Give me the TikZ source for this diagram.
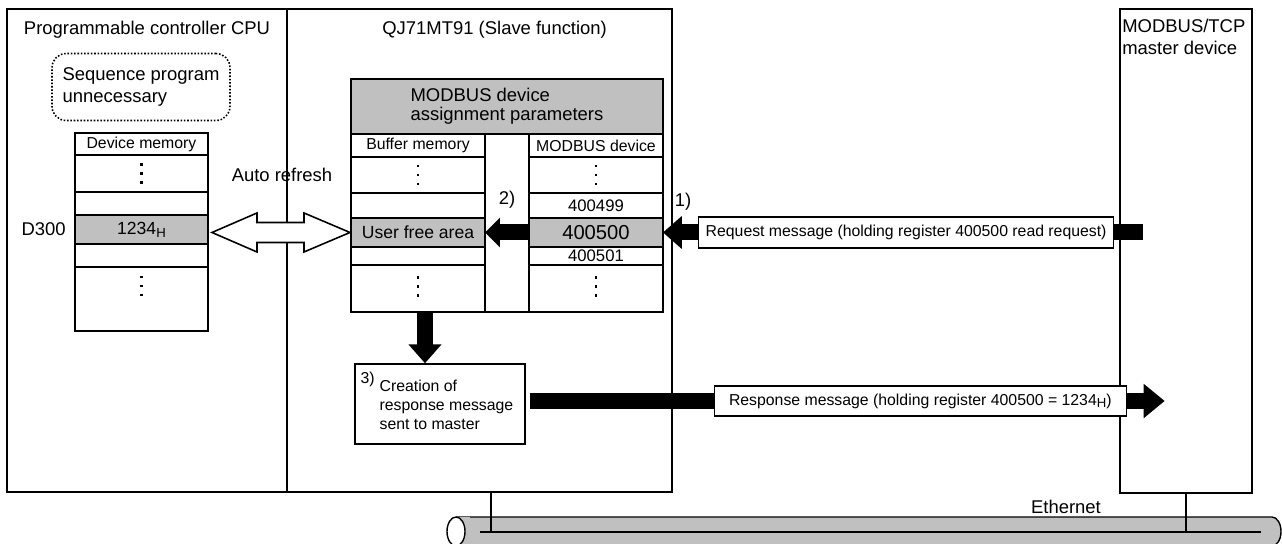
\documentclass[tikz,border=0pt]{standalone}
\usepackage{fontspec}
\setmainfont{Liberation Sans}
\usetikzlibrary{positioning, arrows.meta, calc}
\definecolor{cellgray}{RGB}{192,192,192}
\newcommand{\hexH}{\raisebox{-0.3ex}{\fontsize{7.5}{8}\selectfont H}}

\begin{document}
\begin{tikzpicture}[
	x=0.02cm, y=-0.02cm,
	% --- Styles ---
	pane/.style={
		rectangle, draw, line width=1pt, outer sep=0pt, inner sep=0pt, anchor=north west
	},
	cell/.style={
		rectangle, draw, line width=0.8pt, outer sep=0pt, inner sep=0pt,
		font=\fontsize{9}{10}\selectfont
	},
	devcell/.style={cell, minimum width=2.66cm},
	bufcell/.style={cell, minimum width=2.68cm},
	grcell/.style={fill=cellgray},
	title/.style={font=\fontsize{10.5}{12.5}\selectfont, inner sep=0pt},
	note/.style={
		rectangle, draw, densely dotted, line width=0.9pt, rounded corners=8pt,
		minimum width=3.56cm, minimum height=1.34cm, align=left, title
	},
	msgbox/.style={
		rectangle, draw, fill=white, line width=0.8pt, inner sep=0pt,
		minimum height=0.62cm, font=\fontsize{9}{10}\selectfont
	},
	blk/.style={line width=0.32cm, -{Triangle[length=0.38cm 0 0, width=0.64cm 0 0]}},
	dblarrow/.style={draw, fill=white, line width=0.9pt, line join=miter},
	cable/.style={fill=cellgray, draw, line width=0.8pt}
	]
	
	\useasboundingbox (0,0) rectangle (1282,544);
	
	% --- 1. Panes ---
	\node[pane, minimum width=5.6cm, minimum height=9.66cm] (cpu) at (7,9) {};
	\node[pane, minimum width=7.7cm, minimum height=9.66cm] (slave) at (287,9) {};
	\node[pane, minimum width=2.64cm, minimum height=9.68cm] (master) at (1120,9) {};
	
	\node[title] (cpu_title) at (147,30) {Programmable controller CPU};
	\node[title, anchor=west] (slave_title) at (382,30) {QJ71MT91 (Slave function)};
	\node[title, anchor=north west, align=left] (master_title) at (1122,19) {MODBUS/TCP\\master device};
	
	\node[note] (seqnote) at (141,87) {Sequence program\\unnecessary};
	
	% --- 2. Device memory ---
	\node[devcell, minimum height=0.44cm, anchor=north west] (dhdr) at (75,133) {Device memory};
	\node[devcell, minimum height=0.74cm, below=0pt of dhdr] (ddots1) {};
	\node[devcell, minimum height=0.46cm, below=0pt of ddots1] (dblank1) {};
	\node[devcell, grcell, minimum height=0.58cm, below=0pt of dblank1, font=\fontsize{10}{11}\selectfont] (dval) {1234\hexH};
	\node[devcell, minimum height=0.46cm, below=0pt of dval] (dblank2) {};
	\node[devcell, minimum height=1.28cm, below=0pt of dblank2] (ddots2) {};
	
	\node[title, left=0.18cm of dval] (d300) {D300};
	
	% --- 3. MODBUS device assignment parameters ---
	\node[cell, grcell, minimum width=6.24cm, minimum height=1.1cm, anchor=north west,
		align=left, font=\fontsize{10.5}{11}\selectfont] (param) at (351,79) {MODBUS device\\assignment parameters};
	
	\node[bufcell, minimum height=0.46cm, anchor=north west] (bhdr) at (351,134) {Buffer memory};
	\node[bufcell, minimum height=0.72cm, below=0pt of bhdr] (bdots1) {};
	\node[bufcell, minimum height=0.5cm, below=0pt of bdots1] (bblank1) {};
	\node[bufcell, grcell, minimum height=0.58cm, below=0pt of bblank1, font=\fontsize{10}{11}\selectfont] (busr) {User free area};
	\node[bufcell, minimum height=0.36cm, below=0pt of busr] (bblank2) {};
	\node[bufcell, minimum height=0.94cm, below=0pt of bblank2] (bdots2) {};
	
	\node[cell, minimum width=0.88cm, minimum height=3.56cm, anchor=north west] (gapcol) at (485,134) {};
	
	\node[bufcell, minimum height=0.46cm, anchor=north west] (mhdr) at (529,134) {MODBUS device};
	\node[bufcell, minimum height=0.72cm, below=0pt of mhdr] (mdots1) {};
	\node[bufcell, minimum height=0.5cm, below=0pt of mdots1, font=\fontsize{9.5}{10}\selectfont] (m499) {400499};
	\node[bufcell, grcell, minimum height=0.58cm, below=0pt of m499, font=\fontsize{11.5}{12}\selectfont] (m500) {400500};
	\node[bufcell, minimum height=0.36cm, below=0pt of m500, font=\fontsize{9.5}{10}\selectfont] (m501) {400501};
	\node[bufcell, minimum height=0.94cm, below=0pt of m501] (mdots2) {};
	
	% vertical dots in the "..." cells
	\foreach \c/\dy in {ddots1/0, ddots2/-13, bdots1/0, bdots2/-2, mdots1/0, mdots2/-2}
		\foreach \k in {-1,0,1}
			\fill ($(\c.center)+(-1.3,\k*9+\dy-1.3)$) rectangle ++(2.6,2.6);
	
	% --- 4. Auto refresh ---
	\node[title] (autoref) at (282,175) {Auto refresh};
	\coordinate (ltip) at ($(dval.east |- busr.west)+(4,0)$);
	\coordinate (rtip) at ($(busr.west)+(-1,0)$);
	\draw[dblarrow] (ltip) -- ++(45,-19.5) -- ++(0,9.5) -- ($(rtip)+(-46,-10)$) -- ++(0,-9.5)
		-- (rtip) -- ++(-46,19.5) -- ++(0,-9.5) -- ($(ltip)+(45,10)$) -- ++(0,9.5) -- cycle;
	
	% --- 5. Request ---
	\node[title] (lbl1) at (683,202) {1)};
	\coordinate (req_tail) at ($(m500.east)+(480,0)$);
	\draw[blk] (req_tail) -- (m500.east);
	\node[msgbox, anchor=west, minimum width=8.3cm] (reqmsg) at ($(m500.east)+(35,0)$)
		{Request message (holding register 400500 read request)};
	
	\node[title] (lbl2) at (507,200) {2)};
	\draw[blk, -{Triangle[length=0.3cm 0 0, width=0.58cm 0 0]}] (m500.west) -- (busr.east);
	
	% --- 6. Response ---
	\node[rectangle, draw, line width=0.8pt, minimum width=3.4cm, minimum height=1.6cm] (creat) at (440,404) {};
	\node[anchor=west, align=left, inner sep=0pt, font=\fontsize{9}{10.8}\selectfont] (creat_txt)
		at ($(creat.west)+(25,1)$) {Creation of\\response message\\sent to master};
	\node[anchor=north west, inner sep=0pt, font=\fontsize{9}{10}\selectfont] (lbl3)
		at ($(creat.north west)+(6,8)$) {3)};
	
	\coordinate (down_tail) at ($(bdots2.south)+(7,0)$);
	\draw[blk] (down_tail) -- (down_tail |- creat.north);
	
	\coordinate (resp_tail) at ($(creat.east)+(4,-3)$);
	\coordinate (resp_tip) at ($(resp_tail)+(635,0)$);
	\draw[blk, -{Triangle[length=0.42cm 0 0, width=0.66cm 0 0]}] (resp_tail) -- (resp_tip);
	\node[msgbox, anchor=west, minimum width=8.24cm, minimum height=0.6cm] (respmsg) at ($(resp_tail)+(184,0)$)
		{Response message (holding register 400500 = 1234\hexH)};
	
	% --- 7. Ethernet ---
	\coordinate (tap1) at (491,532);
	\draw[cable] (456,517) -- (1272,517) arc[start angle=-90, end angle=90, x radius=9, y radius=14.5] -- (456,546);
	\fill[cellgray] (456,517.4) rectangle (470,545.6);
	\draw[fill=white, line width=0.8pt] (456,531.5) ellipse [x radius=9, y radius=14.5];
	\draw[line width=0.8pt] (480,532) -- (1261,532);
	\draw[line width=0.8pt] (tap1 |- slave.south) -- (tap1);
	\draw[line width=0.8pt] (master.south) -- (master.south |- tap1);
	\node[title] (ethlbl) at (1066,507) {Ethernet};
	
\end{tikzpicture}
\end{document}
